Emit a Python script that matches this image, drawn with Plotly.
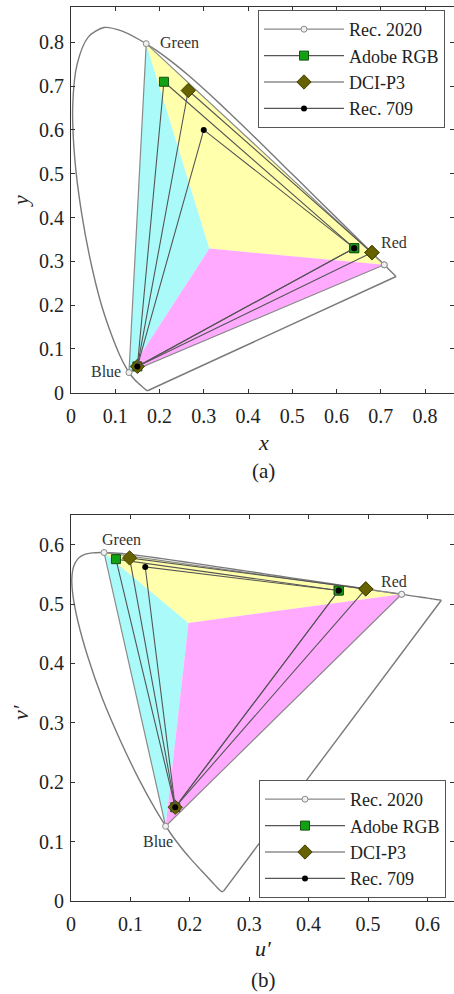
import plotly.graph_objects as go

# CIE 1931 spectral locus (x, y), 380-700 nm
locus_x = [0.1741, 0.1740, 0.1738, 0.1736, 0.1733, 0.1730, 0.1726, 0.1721, 0.1714, 0.1703,
           0.1689, 0.1669, 0.1644, 0.1611, 0.1566, 0.1510, 0.1440, 0.1355, 0.1241, 0.1096,
           0.0913, 0.0687, 0.0454, 0.0235, 0.0082, 0.0039, 0.0139, 0.0389, 0.0743, 0.1142,
           0.1547, 0.1929, 0.2296, 0.2658, 0.3016, 0.3373, 0.3731, 0.4087, 0.4441, 0.4788,
           0.5125, 0.5448, 0.5752, 0.6029, 0.6270, 0.6482, 0.6658, 0.6801, 0.6915, 0.7006,
           0.7079, 0.7140, 0.7190, 0.7230, 0.7260, 0.7283, 0.7300, 0.7311, 0.7320, 0.7334,
           0.7344, 0.7347]
locus_y = [0.0050, 0.0050, 0.0049, 0.0049, 0.0048, 0.0048, 0.0048, 0.0048, 0.0051, 0.0058,
           0.0069, 0.0086, 0.0109, 0.0138, 0.0177, 0.0227, 0.0297, 0.0399, 0.0578, 0.0868,
           0.1327, 0.2007, 0.2950, 0.4127, 0.5384, 0.6548, 0.7502, 0.8120, 0.8338, 0.8262,
           0.8059, 0.7816, 0.7543, 0.7243, 0.6923, 0.6589, 0.6245, 0.5896, 0.5547, 0.5202,
           0.4866, 0.4544, 0.4242, 0.3965, 0.3725, 0.3514, 0.3340, 0.3197, 0.3083, 0.2993,
           0.2920, 0.2859, 0.2809, 0.2770, 0.2740, 0.2717, 0.2700, 0.2689, 0.2680, 0.2666,
           0.2656, 0.2653]

# Gamut primaries (R, G, B) in CIE xy
gamut_names = ["Rec. 2020", "Adobe RGB", "DCI-P3", "Rec. 709"]
gamut_x = {
    "Rec. 2020": [0.708, 0.170, 0.131],
    "Adobe RGB": [0.640, 0.210, 0.150],
    "DCI-P3":    [0.680, 0.265, 0.150],
    "Rec. 709":  [0.640, 0.300, 0.150],
}
gamut_y = {
    "Rec. 2020": [0.292, 0.797, 0.046],
    "Adobe RGB": [0.330, 0.710, 0.060],
    "DCI-P3":    [0.320, 0.690, 0.060],
    "Rec. 709":  [0.330, 0.600, 0.060],
}
white_x = 0.3127
white_y = 0.3290

x_ticks = [0, 0.1, 0.2, 0.3, 0.4, 0.5, 0.6, 0.7, 0.8]
y_ticks = [0, 0.1, 0.2, 0.3, 0.4, 0.5, 0.6, 0.7, 0.8]
u_ticks = [0, 0.1, 0.2, 0.3, 0.4, 0.5, 0.6]
v_ticks = [0, 0.1, 0.2, 0.3, 0.4, 0.5, 0.6]


def to_uv(xs, ys):
    us, vs = [], []
    for x, y in zip(xs, ys):
        d = -2 * x + 12 * y + 3
        us.append(4 * x / d)
        vs.append(9 * y / d)
    return us, vs


styles = {
    "Rec. 2020": dict(line=dict(color="#8a8a8a", width=1.2),
                      marker=dict(symbol="circle", size=6, color="#f0f0f0",
                                  line=dict(color="#8a8a8a", width=1))),
    "Adobe RGB": dict(line=dict(color="#555555", width=1.1),
                      marker=dict(symbol="square", size=9, color="#13a013",
                                  line=dict(color="#145214", width=1))),
    "DCI-P3": dict(line=dict(color="#555555", width=1.1),
                   marker=dict(symbol="diamond", size=11, color="#666200",
                               line=dict(color="#444000", width=1))),
    "Rec. 709": dict(line=dict(color="#555555", width=1.1),
                     marker=dict(symbol="circle", size=6, color="#000000",
                                 line=dict(color="#000000", width=0))),
}

fill_colors = ["rgba(170,250,250,1)", "rgba(255,255,172,1)", "rgba(255,170,255,1)"]

fig = go.Figure()

SERIF = "Liberation Serif, Times New Roman, serif"
LOCUS_LINE = dict(color="#7a7a7a", width=1.4)


def add_panel(xa, ya, conv, legend_name):
    r20x, r20y = conv(gamut_x["Rec. 2020"], gamut_y["Rec. 2020"])
    wx, wy = conv([white_x], [white_y])
    R = (r20x[0], r20y[0]); G = (r20x[1], r20y[1]); B = (r20x[2], r20y[2]); W = (wx[0], wy[0])
    tris = [(G, B, W), (G, R, W), (R, B, W)]
    for tri, col in zip(tris, fill_colors):
        fig.add_trace(go.Scatter(
            x=[p[0] for p in tri] + [tri[0][0]], y=[p[1] for p in tri] + [tri[0][1]],
            mode="lines", fill="toself", fillcolor=col, line=dict(width=0),
            showlegend=False, hoverinfo="skip", xaxis=xa, yaxis=ya))
    lx, ly = conv(locus_x, locus_y)
    fig.add_trace(go.Scatter(x=lx, y=ly, mode="lines",
                             line=dict(shape="spline", smoothing=0.8, **LOCUS_LINE),
                             showlegend=False, hoverinfo="skip", xaxis=xa, yaxis=ya))
    # line of purples
    fig.add_trace(go.Scatter(x=[lx[-1], lx[0]], y=[ly[-1], ly[0]], mode="lines",
                             line=LOCUS_LINE, showlegend=False, hoverinfo="skip",
                             xaxis=xa, yaxis=ya))
    for name in gamut_names:
        gx, gy = conv(gamut_x[name], gamut_y[name])
        fig.add_trace(go.Scatter(
            x=gx + [gx[0]], y=gy + [gy[0]], mode="lines+markers", name=name,
            line=styles[name]["line"], marker=styles[name]["marker"],
            legend=legend_name, xaxis=xa, yaxis=ya))


def ident(xs, ys):
    return list(xs), list(ys)


add_panel("x", "y", ident, "legend")
add_panel("x2", "y2", to_uv, "legend2")

# dummy traces so right-side tick axes are drawn
fig.add_trace(go.Scatter(x=[], y=[], xaxis="x", yaxis="y3", showlegend=False))
fig.add_trace(go.Scatter(x=[], y=[], xaxis="x2", yaxis="y4", showlegend=False))

W, H = 454, 994
xl = 71 / W
top_dom = [1 - 392.7 / H, 1 - 7.3 / H]
bot_dom = [1 - 901 / H, 1 - 515 / H]

tickfont = dict(family=SERIF, size=20, color="#222222")
axis_common = dict(showline=True, linecolor="#333333", linewidth=1, ticks="inside",
                   ticklen=4, tickcolor="#333333", showgrid=False, zeroline=False,
                   tickfont=tickfont, automargin=False)
right_common = dict(showticklabels=False, showline=False, ticks="inside", ticklen=4,
                    tickcolor="#333333", showgrid=False, zeroline=False, automargin=False)

leg_font = dict(family=SERIF, size=18, color="#222222")

fig.update_layout(
    template="none",
    width=W, height=H, margin=dict(l=0, r=0, t=0, b=0, autoexpand=False),
    plot_bgcolor="white", paper_bgcolor="white",
    xaxis=dict(domain=[xl, 1.0], range=[0, 383 / 442.5], anchor="y", tickvals=x_ticks,
               ticktext=[f"{v:g}" for v in x_ticks], mirror="ticks", ticklabelstandoff=5,
               **axis_common),
    yaxis=dict(domain=top_dom, range=[0, 0.88], anchor="x", tickvals=y_ticks,
               ticktext=[f"{v:g}" for v in y_ticks], mirror=False, ticklabelstandoff=2,
               **axis_common),
    yaxis3=dict(overlaying="y", side="right", anchor="x", range=[0, 0.88], tickvals=y_ticks,
                **right_common),
    xaxis2=dict(domain=[xl, 1.0], range=[0, 383 / 594], anchor="y2", tickvals=u_ticks,
                ticktext=[f"{v:g}" for v in u_ticks], mirror="ticks", ticklabelstandoff=5,
                **axis_common),
    yaxis2=dict(domain=bot_dom, range=[0, 0.65], anchor="x2", tickvals=v_ticks,
                ticktext=[f"{v:g}" for v in v_ticks], mirror=False, ticklabelstandoff=2,
                **axis_common),
    yaxis4=dict(overlaying="y2", side="right", anchor="x2", range=[0, 0.65], tickvals=v_ticks,
                **right_common),
    legend=dict(x=445 / W, xanchor="right", y=1 - 69 / H, yanchor="middle",
                bgcolor="white", bordercolor="#555555", borderwidth=1, itemwidth=80,
                font=leg_font, traceorder="normal"),
    legend2=dict(x=446 / W, xanchor="right", y=1 - 839 / H, yanchor="middle",
                 bgcolor="white", bordercolor="#555555", borderwidth=1, itemwidth=80,
                 font=leg_font, traceorder="normal"),
    showlegend=True,
)

lab_font = dict(family=SERIF, size=16, color="#333333")
ann = []
# top panel labels
ann.append(dict(x=0.170, y=0.797, xref="x", yref="y", text="Green", showarrow=False,
                xanchor="left", yanchor="middle", xshift=12, yshift=1, font=lab_font))
ann.append(dict(x=0.73, y=0.342, xref="x", yref="y", text="Red", showarrow=False,
                xanchor="center", yanchor="middle", font=lab_font))
ann.append(dict(x=0.131, y=0.048, xref="x", yref="y", text="Blue", showarrow=False,
                xanchor="right", yanchor="middle", xshift=-6, font=lab_font))
# bottom panel labels
ann.append(dict(x=0.0853, y=0.608, xref="x2", yref="y2", text="Green", showarrow=False,
                xanchor="center", yanchor="middle", font=lab_font))
ann.append(dict(x=0.544, y=0.5375, xref="x2", yref="y2", text="Red", showarrow=False,
                xanchor="center", yanchor="middle", font=lab_font))
ann.append(dict(x=0.147, y=0.0998, xref="x2", yref="y2", text="Blue", showarrow=False,
                xanchor="center", yanchor="middle", font=lab_font))

title_font = dict(family=SERIF, size=22, color="#222222")
paper_ann = [
    (263, 442.5, "<i>x</i>", 0, title_font),
    (263, 471, "(a)", 0, dict(family=SERIF, size=21, color="#222222")),
    (20, 201, "<i>y</i>", -90, title_font),
    (263, 948, "<i>u′</i>", 0, title_font),
    (263, 980, "(b)", 0, dict(family=SERIF, size=21, color="#222222")),
    (20, 712, "<i>v′</i>", -90, title_font),
]
for px, py, txt, ang, fnt in paper_ann:
    ann.append(dict(x=px / W, y=1 - py / H, xref="paper", yref="paper", text=txt,
                    showarrow=False, textangle=ang, xanchor="center", yanchor="middle",
                    font=fnt))
fig.update_layout(annotations=ann)

fig.write_html("out.html", config={"displayModeBar": False},
               post_script="document.body.style.margin='0';")
